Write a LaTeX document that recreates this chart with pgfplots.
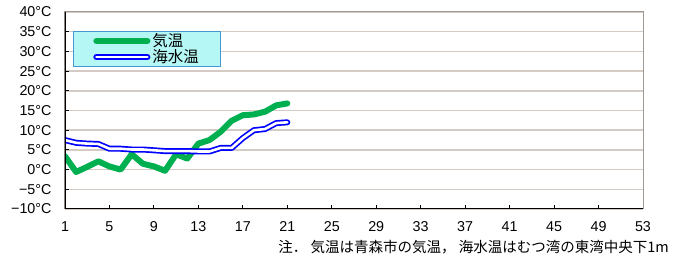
\documentclass[border=0pt]{standalone}
\usepackage{fontspec}
\setmainfont{Liberation Sans}
\newfontfamily\cjk{Noto Sans CJK JP}
\usepackage{pgfplots}
\pgfplotsset{compat=1.18}
\definecolor{airgreen}{RGB}{0,176,80}
\definecolor{seablue}{RGB}{0,0,255}
\definecolor{gridc}{RGB}{212,204,196}
\definecolor{framec}{RGB}{160,152,146}
\definecolor{legfill}{RGB}{180,247,245}
\definecolor{legdraw}{RGB}{70,150,210}
\begin{document}
\begin{tikzpicture}
\useasboundingbox (0,0) rectangle (677pt,259pt);
\begin{axis}[
  at={(65pt,50pt)}, anchor=south west,
  scale only axis, width=578pt, height=197pt,
  xmin=1, xmax=53, ymin=-10, ymax=40,
  xtick={1,5,...,53},
  ytick={-10,-5,...,40},
  yticklabels={−10°C,−5°C,0°C,5°C,10°C,15°C,20°C,25°C,30°C,35°C,40°C},
  /pgf/number format/assume math mode=true,
  ymajorgrids,
  grid style={color=gridc, line width=1.5pt},
  tick pos=left, tick align=inside,
  major tick length=4pt,
  tick style={black, line width=1pt},
  axis line style={draw=framec, line width=1pt},
  ticklabel style={font=\fontsize{14.3}{16}\selectfont},
  xticklabel style={yshift=-9pt},
  yticklabel style={xshift=-10pt},
  legend style={at={(0.0138,0.9036)}, anchor=north west,
    fill=legfill, draw=legdraw, line width=0.8pt,
    font=\cjk\fontsize{15.5}{17}\selectfont,
    inner xsep=20pt, inner ysep=1.5pt,
    nodes={inner ysep=0.8pt},
    row sep=0pt},
  legend cell align=left,
  legend image code/.code={\draw[#1] (0pt,0pt) -- (51pt,0pt);},
]
\addplot[airgreen, line width=6pt, line cap=round, line join=round] coordinates {
(1,3.4) (2,-0.6) (3,0.7) (4,2.1) (5,0.8) (6,0.0) (7,3.9) (8,1.5) (9,0.8) (10,-0.3)
(11,3.9) (12,2.8) (13,6.6) (14,7.5) (15,9.6) (16,12.4) (17,13.8) (18,14.0) (19,14.7) (20,16.3) (21,16.8)
};
\addlegendentry{気温}
\addplot[seablue, line width=1.7pt, double=white, double distance=2.6pt, line cap=round, line join=round] coordinates {
(1,7.5) (2,6.8) (3,6.6) (4,6.5) (5,5.3) (6,5.3) (7,5.1) (8,5.1) (9,4.9) (10,4.7)
(11,4.7) (12,4.7) (13,4.6) (14,4.6) (15,5.5) (16,5.5) (17,8.0) (18,10.0) (19,10.3) (20,11.8) (21,12.0)
};
\addlegendentry{海水温}
\draw[black, line width=1.6pt] (rel axis cs:0,1) -- (rel axis cs:0,0) -- (rel axis cs:1,0);
\end{axis}
\node[anchor=east, inner sep=0pt, font=\cjk\fontsize{14.5}{16}\selectfont] at (669pt,12pt) {注．\ 気温は青森市の気温，\ 海水温はむつ湾の東湾中央下1m};
\end{tikzpicture}
\end{document}
